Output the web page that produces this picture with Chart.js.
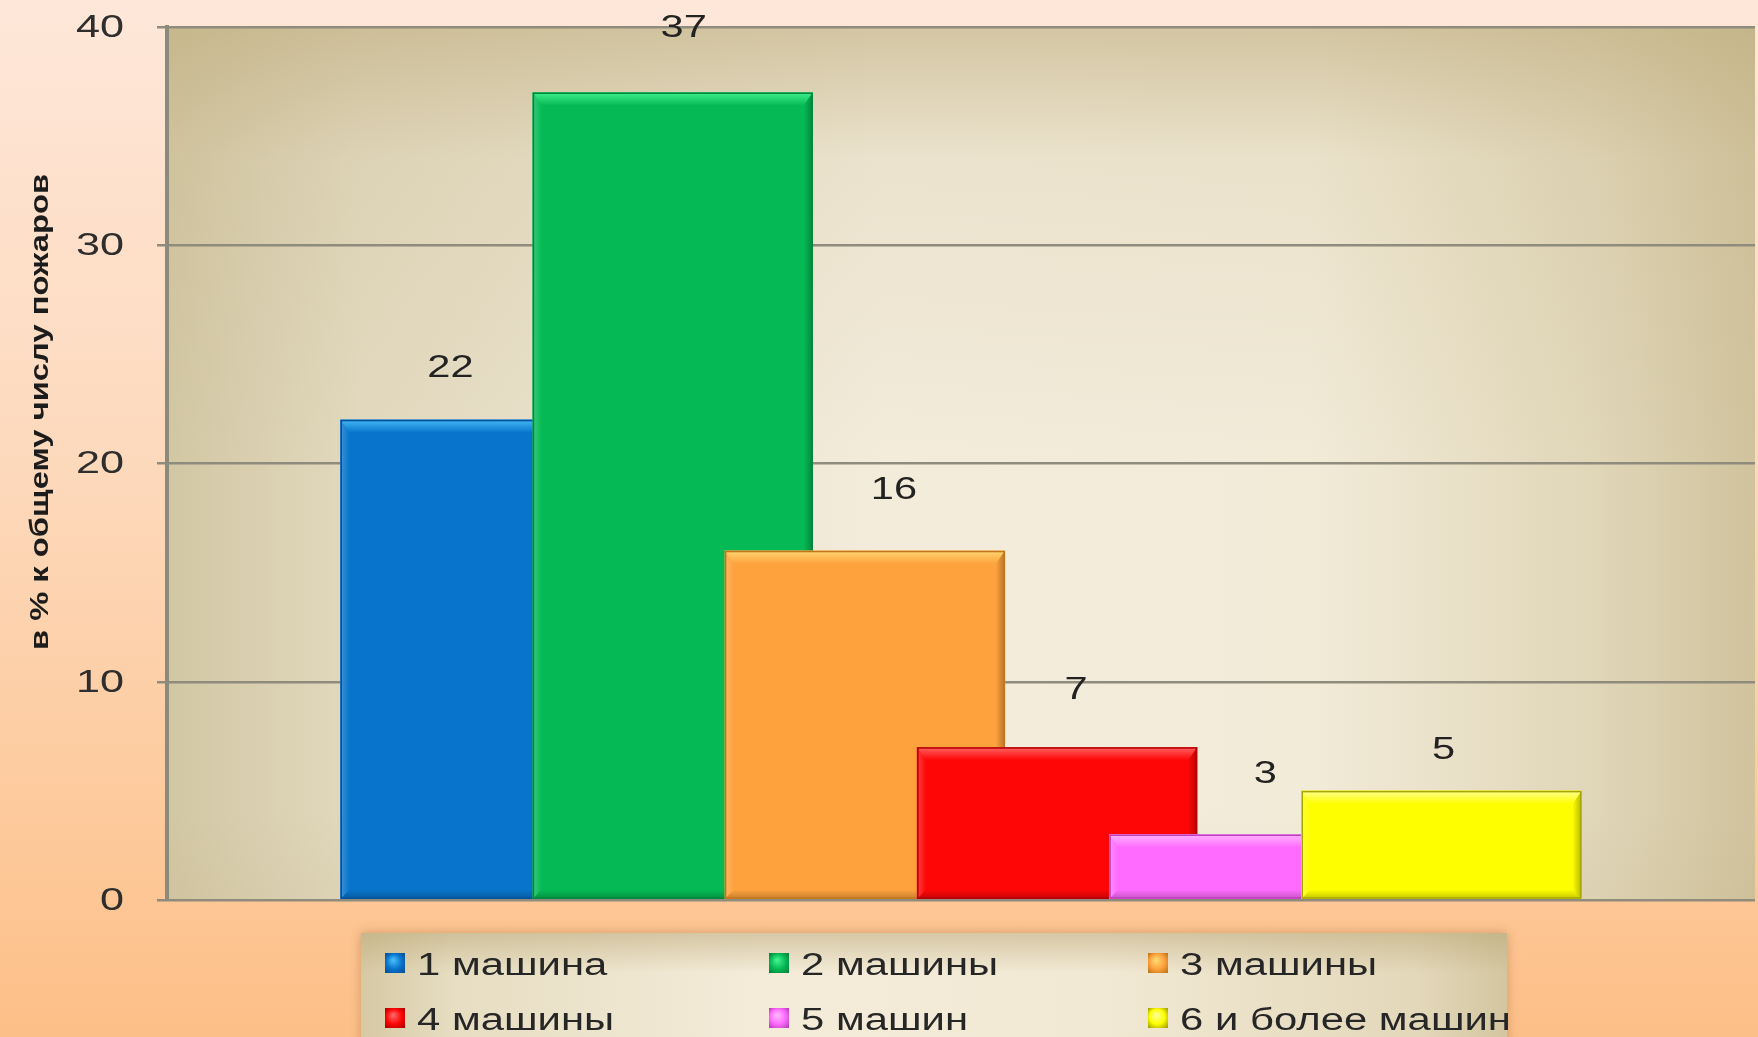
<!DOCTYPE html>
<html lang="ru">
<head>
<meta charset="utf-8">
<title>Пожары по числу машин</title>
<script src="https://cdn.jsdelivr.net/npm/chart.js@4.4.1/dist/chart.umd.min.js"></script>
<style>
  html, body { margin: 0; padding: 0; }
  body {
    width: 1758px;
    height: 1037px;
    overflow: hidden;
    background: linear-gradient(to bottom, #fee7d9 0%, #fdd9bc 45%, #fdc796 85%, #fdbf88 100%);
  }
  canvas { display: block; }
</style>
</head>
<body>
<canvas id="fireChart" width="1758" height="1037"></canvas>
<script>
const categories = ["1 машина", "2 машины", "3 машины", "4 машины", "5 машин", "6 и более машин"];
const shares = [22, 37, 16, 7, 3, 5];
const positions = [1, 2, 3, 4, 5, 6];
const yTicks = [0, 10, 20, 30, 40];
const axisTitle = "в % к общему числу пожаров";

const faceColors = ["#0874cb", "#05ba55", "#fda23c", "#fe0606", "#fe6bfe", "#fefe00"];
const lightColors = ["#44b9f6", "#3ff08c", "#fed671", "#ff6262", "#ffb3ff", "#ffff90"];
const darkColors = ["#05509a", "#04843c", "#c4761c", "#b20000", "#bd3fbd", "#a6a600"];

// value labels sit a little off the bar tops, each moved by hand
const labelNudge = [[-30, -52], [11, -64], [29, -61], [19, -57], [16, -60], [2, -41]];

const textFont = "'Liberation Sans', Arial, sans-serif";

// the lettering on this slide is drawn wide, so text is stretched sideways
function wideText(ctx, text, x, y, sx, align) {
  ctx.save();
  ctx.translate(x, y);
  ctx.scale(sx, 1);
  ctx.textAlign = align;
  ctx.fillText(text, 0, 0);
  ctx.restore();
}

function drawBevel(ctx, bar, i) {
  const { x, y, base, width } = bar.getProps(["x", "y", "base", "width"], true);
  const left = x - width / 2;
  const right = x + width / 2;
  const top = y;
  const bottom = base;
  const t = 13;
  const s = 9;
  ctx.save();

  let g = ctx.createLinearGradient(0, top, 0, top + t);
  g.addColorStop(0, lightColors[i]);
  g.addColorStop(1, faceColors[i]);
  ctx.fillStyle = g;
  ctx.beginPath();
  ctx.moveTo(left, top);
  ctx.lineTo(right, top);
  ctx.lineTo(right - s, top + t);
  ctx.lineTo(left + s, top + t);
  ctx.closePath();
  ctx.fill();

  g = ctx.createLinearGradient(left, 0, left + s, 0);
  g.addColorStop(0, "rgba(255,255,255,0.22)");
  g.addColorStop(1, "rgba(255,255,255,0)");
  ctx.fillStyle = g;
  ctx.beginPath();
  ctx.moveTo(left, top);
  ctx.lineTo(left + s, top + t);
  ctx.lineTo(left + s, bottom - s);
  ctx.lineTo(left, bottom);
  ctx.closePath();
  ctx.fill();

  g = ctx.createLinearGradient(right, 0, right - s, 0);
  g.addColorStop(0, "rgba(0,0,0,0.28)");
  g.addColorStop(1, "rgba(0,0,0,0)");
  ctx.fillStyle = g;
  ctx.beginPath();
  ctx.moveTo(right, top);
  ctx.lineTo(right - s, top + t);
  ctx.lineTo(right - s, bottom - s);
  ctx.lineTo(right, bottom);
  ctx.closePath();
  ctx.fill();

  g = ctx.createLinearGradient(0, bottom, 0, bottom - s);
  g.addColorStop(0, "rgba(0,0,0,0.22)");
  g.addColorStop(1, "rgba(0,0,0,0)");
  ctx.fillStyle = g;
  ctx.beginPath();
  ctx.moveTo(left, bottom);
  ctx.lineTo(left + s, bottom - s);
  ctx.lineTo(right - s, bottom - s);
  ctx.lineTo(right, bottom);
  ctx.closePath();
  ctx.fill();

  ctx.strokeStyle = darkColors[i];
  ctx.lineWidth = 1.5;
  ctx.strokeRect(left + 0.75, top + 0.75, width - 1.5, bottom - top - 1.5);
  ctx.restore();
}

function drawLegend(ctx) {
  const box = { x: 361, y: 933, w: 1146, h: 130 };
  ctx.save();
  ctx.shadowColor = "rgba(150,105,55,0.45)";
  ctx.shadowBlur = 10;
  const g = ctx.createLinearGradient(box.x, 0, box.x + box.w, 0);
  g.addColorStop(0, "#d6c9a3");
  g.addColorStop(0.08, "#e6ddc2");
  g.addColorStop(0.35, "#f4ecd9");
  g.addColorStop(0.65, "#f2e9d4");
  g.addColorStop(0.92, "#e3d8ba");
  g.addColorStop(1, "#d3c6a0");
  ctx.fillStyle = g;
  ctx.fillRect(box.x, box.y, box.w, box.h);
  ctx.shadowBlur = 0;
  const v = ctx.createLinearGradient(0, box.y, 0, box.y + 40);
  v.addColorStop(0, "rgba(185,165,115,0.5)");
  v.addColorStop(1, "rgba(185,165,115,0)");
  ctx.fillStyle = v;
  ctx.fillRect(box.x, box.y, box.w, 40);

  const colX = [385, 769, 1148];
  const rowY = [963, 1018];
  ctx.font = "31px " + textFont;
  ctx.textBaseline = "middle";
  categories.forEach((name, i) => {
    const mx = colX[i % 3];
    const my = rowY[Math.floor(i / 3)];
    const m = ctx.createRadialGradient(mx + 8, my - 3, 1, mx + 10, my, 13);
    m.addColorStop(0, lightColors[i]);
    m.addColorStop(0.55, faceColors[i]);
    m.addColorStop(1, darkColors[i]);
    ctx.fillStyle = m;
    ctx.fillRect(mx, my - 10, 20, 20);
    ctx.fillStyle = "#262626";
    wideText(ctx, name, mx + 32, my + 3, 1.35, "left");
  });
  ctx.restore();
}

const chartDecor = {
  id: "chartDecor",
  beforeDraw(chart) {
    const { ctx, chartArea: a } = chart;
    ctx.save();
    const h = ctx.createLinearGradient(a.left, 0, a.right, 0);
    h.addColorStop(0, "#d2c7a3");
    h.addColorStop(0.12, "#e2d9bf");
    h.addColorStop(0.45, "#f3ecdb");
    h.addColorStop(0.72, "#f2ebd8");
    h.addColorStop(0.9, "#e0d6b8");
    h.addColorStop(1, "#d0c39d");
    ctx.fillStyle = h;
    ctx.fillRect(a.left, a.top, a.width, a.height);
    const v = ctx.createLinearGradient(0, a.top, 0, a.bottom);
    v.addColorStop(0, "rgba(190,172,125,0.6)");
    v.addColorStop(0.15, "rgba(190,172,125,0.15)");
    v.addColorStop(0.5, "rgba(190,172,125,0)");
    v.addColorStop(0.9, "rgba(190,172,125,0)");
    v.addColorStop(1, "rgba(190,172,125,0.12)");
    ctx.fillStyle = v;
    ctx.fillRect(a.left, a.top, a.width, a.height);
    ctx.restore();
  },
  beforeDatasetDraw(chart, args) {
    // draw bar by bar so each later bar covers the one before it
    const ctx = chart.ctx;
    args.meta.data.forEach((bar, i) => {
      bar.draw(ctx);
      drawBevel(ctx, bar, i);
    });
    return false;
  },
  afterDatasetsDraw(chart) {
    const ctx = chart.ctx;
    const bars = chart.getDatasetMeta(0).data;
    ctx.save();
    ctx.font = "32px " + textFont;
    ctx.fillStyle = "#222222";
    ctx.textBaseline = "middle";
    bars.forEach((bar, i) => {
      const [dx, dy] = labelNudge[i];
      wideText(ctx, String(shares[i]), bar.x + dx, bar.y + dy, 1.3, "center");
    });
    ctx.restore();
  },
  afterDraw(chart) {
    const ctx = chart.ctx;
    const yScale = chart.scales.y;
    ctx.save();
    ctx.font = "32px " + textFont;
    ctx.fillStyle = "#2e2e2e";
    ctx.textBaseline = "middle";
    yTicks.forEach((v) => {
      wideText(ctx, String(v), yScale.right - 43, yScale.getPixelForValue(v) + 1, 1.35, "right");
    });

    ctx.translate(41, 412);
    ctx.rotate(-Math.PI / 2);
    ctx.font = "bold 26px " + textFont;
    ctx.fillStyle = "#1c1c1c";
    wideText(ctx, axisTitle, 0, 0, 1.26, "center");
    ctx.restore();
    drawLegend(ctx);
  }
};

new Chart(document.getElementById("fireChart"), {
  type: "bar",
  data: {
    datasets: [{
      label: axisTitle,
      data: positions.map((x, i) => ({ x: x, y: shares[i] })),
      backgroundColor: faceColors,
      borderWidth: 0,
      barThickness: 280
    }]
  },
  options: {
    responsive: false,
    animation: false,
    events: [],
    layout: { padding: { left: 67, top: 27, right: 3, bottom: 137 } },
    plugins: {
      legend: { display: false },
      tooltip: { enabled: false }
    },
    scales: {
      x: {
        type: "linear",
        display: false,
        offset: false,
        min: -0.631,
        max: 7.631
      },
      y: {
        min: 0,
        max: 40,
        afterFit: (scale) => {
          scale.width = 100;
          scale.paddingTop = 0;
          scale.paddingBottom = 0;
        },
        afterBuildTicks: (scale) => { scale.ticks = yTicks.map((v) => ({ value: v })); },
        border: { color: "#8c8a7d", width: 4 },
        grid: { color: "#8f8c7d", lineWidth: 2.5, tickLength: 10, tickColor: "#8f8c7d" },
        ticks: { display: false }
      }
    }
  },
  plugins: [chartDecor]
});
</script>
</body>
</html>
